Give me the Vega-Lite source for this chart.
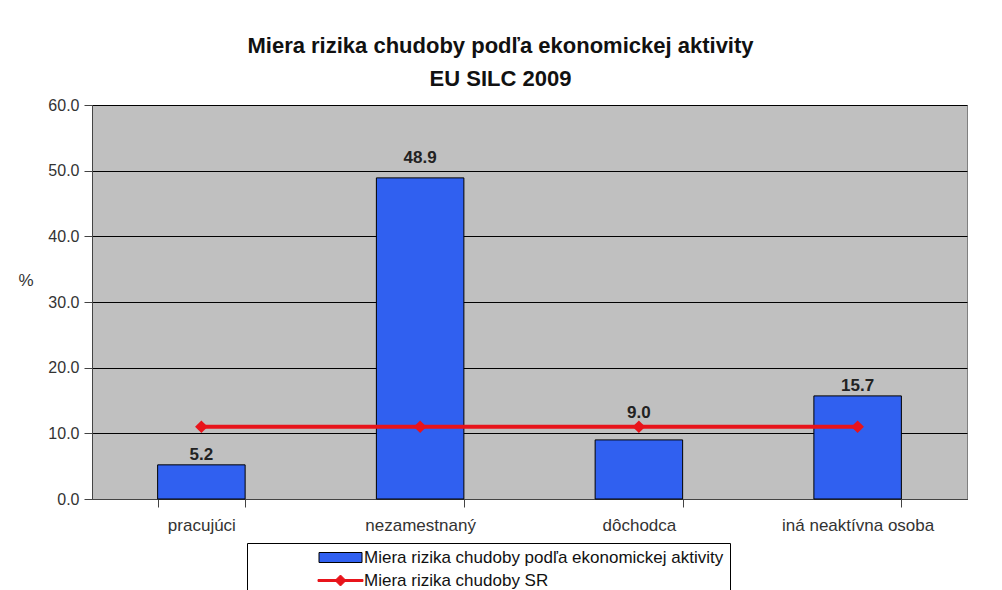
{
  "$schema": "https://vega.github.io/schema/vega-lite/v6.json",
  "width": 875,
  "height": 394,
  "padding": {"left": 18, "top": 35, "right": 30, "bottom": 0},
  "background": "white",
  "config": {
    "font": "Liberation Sans",
    "view": {"fill": "#c0c0c0", "stroke": "#808080"}
  },
  "title": {
    "text": ["Miera rizika chudoby podľa ekonomickej aktivity", "EU SILC 2009"],
    "fontSize": 22,
    "font": "Liberation Sans",
    "fontWeight": "bold",
    "lineHeight": 33,
    "anchor": "middle",
    "dx": -29,
    "offset": 6,
    "color": "#111111"
  },
  "data": {
    "values": [
      {"kategoria": "pracujúci", "seria": "Miera rizika chudoby podľa ekonomickej aktivity", "hodnota": 5.2},
      {"kategoria": "nezamestnaný", "seria": "Miera rizika chudoby podľa ekonomickej aktivity", "hodnota": 48.9},
      {"kategoria": "dôchodca", "seria": "Miera rizika chudoby podľa ekonomickej aktivity", "hodnota": 9.0},
      {"kategoria": "iná neaktívna osoba", "seria": "Miera rizika chudoby podľa ekonomickej aktivity", "hodnota": 15.7},
      {"kategoria": "pracujúci", "seria": "Miera rizika chudoby SR", "hodnota": 11.0},
      {"kategoria": "nezamestnaný", "seria": "Miera rizika chudoby SR", "hodnota": 11.0},
      {"kategoria": "dôchodca", "seria": "Miera rizika chudoby SR", "hodnota": 11.0},
      {"kategoria": "iná neaktívna osoba", "seria": "Miera rizika chudoby SR", "hodnota": 11.0}
    ]
  },
  "encoding": {
    "x": {
      "field": "kategoria",
      "type": "nominal",
      "sort": null,
      "scale": {"paddingInner": 0.6, "paddingOuter": 0.3},
      "axis": {
        "title": null,
        "labelAngle": 0,
        "labelFontSize": 17,
        "labelColor": "#333333",
        "labelPadding": 10,
        "labelLimit": 300,
        "tickBand": "extent",
        "tickSize": 8,
        "tickColor": "#444444",
        "domainColor": "#444444",
        "grid": false
      }
    },
    "y": {
      "field": "hodnota",
      "type": "quantitative",
      "scale": {"domain": [0, 60]},
      "axis": {
        "values": [0, 10, 20, 30, 40, 50, 60],
        "format": ".1f",
        "title": "%",
        "titleAngle": 0,
        "titleAlign": "left",
        "titleBaseline": "middle",
        "titleX": -74,
        "titleY": 175,
        "titleFontSize": 17,
        "titleFontWeight": "normal",
        "titleColor": "#333333",
        "labelFontSize": 16,
        "labelColor": "#333333",
        "labelPadding": 5,
        "tickSize": 8,
        "tickColor": "#444444",
        "domainColor": "#444444",
        "grid": true,
        "gridColor": "#000000",
        "gridWidth": 1,
        "gridOpacity": 1
      }
    }
  },
  "layer": [
    {
      "transform": [{"filter": "datum.seria === 'Miera rizika chudoby podľa ekonomickej aktivity'"}],
      "mark": {"type": "bar", "strokeWidth": 1},
      "encoding": {
        "color": {
          "field": "seria",
          "type": "nominal",
          "sort": null,
          "scale": {
            "domain": ["Miera rizika chudoby podľa ekonomickej aktivity", "Miera rizika chudoby SR"],
            "range": ["#3060f0", "#e8141b"]
          },
          "legend": {
            "title": null,
            "orient": "none",
            "legendX": 155,
            "legendY": 438,
            "direction": "vertical",
            "strokeColor": "#000000",
            "fillColor": "white",
            "padding": 6,
            "symbolSize": 100,
            "symbolOffset": 79,
            "symbolStrokeWidth": 1,
            "symbolOpacity": 1,
            "labelOffset": 15,
            "labelFontSize": 17,
            "labelColor": "#111111",
            "labelLimit": 700,
            "rowPadding": 5
          }
        },
        "stroke": {
          "field": "seria",
          "type": "nominal",
          "sort": null,
          "scale": {
            "domain": ["Miera rizika chudoby podľa ekonomickej aktivity", "Miera rizika chudoby SR"],
            "range": ["#000000", "#e8141b"]
          }
        }
      }
    },
    {
      "transform": [{"filter": "datum.seria === 'Miera rizika chudoby podľa ekonomickej aktivity' && datum.hodnota > 10 && datum.hodnota < 40 || datum.hodnota < 6"}],
      "mark": {"type": "text", "baseline": "alphabetic", "dy": -5, "fontSize": 17, "fontWeight": "bold", "color": "#222222"},
      "encoding": {
        "text": {"field": "hodnota", "type": "quantitative", "format": ".1f"}
      }
    },
    {
      "transform": [{"filter": "datum.kategoria === 'nezamestnaný' && datum.seria === 'Miera rizika chudoby podľa ekonomickej aktivity'"}],
      "mark": {"type": "text", "baseline": "alphabetic", "dy": -15, "fontSize": 17, "fontWeight": "bold", "color": "#222222"},
      "encoding": {
        "text": {"field": "hodnota", "type": "quantitative", "format": ".1f"}
      }
    },
    {
      "transform": [{"filter": "datum.kategoria === 'dôchodca' && datum.seria === 'Miera rizika chudoby podľa ekonomickej aktivity'"}],
      "mark": {"type": "text", "baseline": "alphabetic", "dy": -22, "fontSize": 17, "fontWeight": "bold", "color": "#222222"},
      "encoding": {
        "text": {"field": "hodnota", "type": "quantitative", "format": ".1f"}
      }
    },
    {
      "transform": [{"filter": "datum.seria === 'Miera rizika chudoby SR'"}],
      "mark": {"type": "line", "strokeWidth": 4, "color": "#e8141b"},
      "encoding": {}
    },
    {
      "transform": [{"filter": "datum.seria === 'Miera rizika chudoby SR'"}],
      "mark": {"type": "point", "shape": "diamond", "filled": true, "size": 160, "opacity": 1, "color": "#e8141b"},
      "encoding": {}
    },
    {
      "transform": [{"filter": "datum.seria === 'Miera rizika chudoby SR'"}],
      "mark": {"type": "point", "filled": true, "size": 100, "opacity": 0},
      "encoding": {
        "shape": {
          "field": "seria",
          "type": "nominal",
          "sort": null,
          "scale": {
            "domain": ["Miera rizika chudoby podľa ekonomickej aktivity", "Miera rizika chudoby SR"],
            "range": ["M-4.3,-1H4.3V1H-4.3Z", "M-4.5,-0.2H4.5V0.2H-4.5Z M0,-1.1L1.1,0L0,1.1L-1.1,0Z"]
          }
        }
      }
    }
  ]
}
